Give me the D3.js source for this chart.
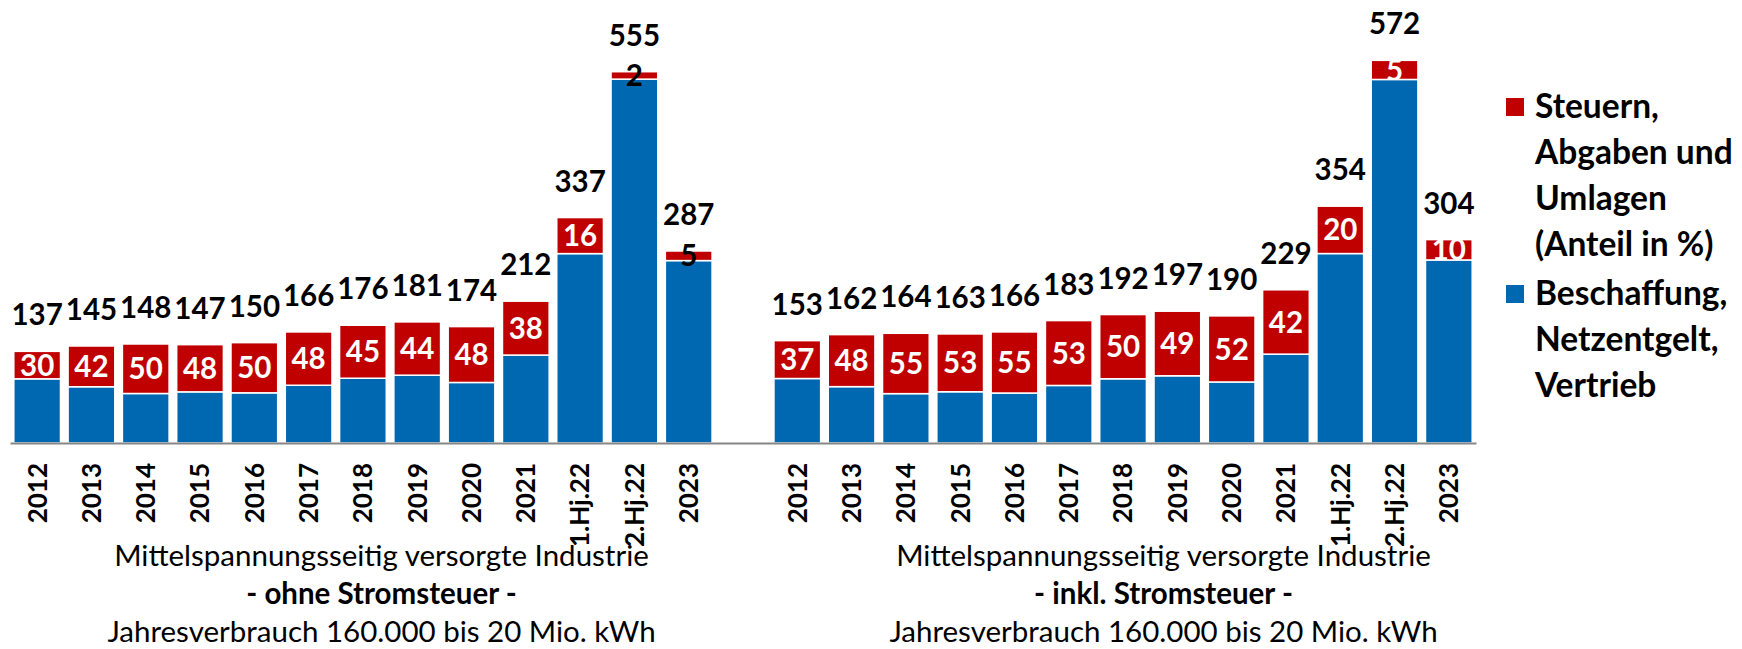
<!DOCTYPE html>
<html>
<head>
<meta charset="utf-8">
<script src="https://cdn.jsdelivr.net/npm/d3@7"></script>
<style>
  body { margin: 0; background: #fff; }
  text { font-family: Lato, "Open Sans", sans-serif; }
</style>
</head>
<body>
<div id="main-canvas"></div>
<script>
// Industry power price (medium voltage), two variants side by side on one axis

const categories = ["2012", "2013", "2014", "2015", "2016", "2017", "2018", "2019", "2020", "2021", "1.Hj.22", "2.Hj.22", "2023"];

// totals and share of taxes/levies (%) - without electricity tax
const totalOhne = [137, 145, 148, 147, 150, 166, 176, 181, 174, 212, 337, 555, 287];
const shareOhne = [30, 42, 50, 48, 50, 48, 45, 44, 48, 38, 16, 2, 5];

// same, including electricity tax
const totalInkl = [153, 162, 164, 163, 166, 183, 192, 197, 190, 229, 354, 572, 304];
const shareInkl = [37, 48, 55, 53, 55, 53, 50, 49, 52, 42, 20, 5, 10];

const legendTax = ["Steuern,", "Abgaben und", "Umlagen", "(Anteil in %)"];
const legendRest = ["Beschaffung,", "Netzentgelt,", "Vertrieb"];

const captionOhne = ["Mittelspannungsseitig versorgte Industrie", "- ohne Stromsteuer -", "Jahresverbrauch 160.000 bis 20 Mio. kWh"];
const captionInkl = ["Mittelspannungsseitig versorgte Industrie", "- inkl. Stromsteuer -", "Jahresverbrauch 160.000 bis 20 Mio. kWh"];

let width = 1742;
let height = 649;

const red = "#C00000";
const blue = "#0068B0";

let svg = d3.select("#main-canvas").append("svg")
    .attr("width", width)
    .attr("height", height)

// build one row per bar; the empty slot "gap" separates the two groups
let groups = [
    { key: "ohne", totals: totalOhne, shares: shareOhne },
    { key: "inkl", totals: totalInkl, shares: shareInkl }
];
let rows = [];
groups.forEach((g, gi) => {
    categories.forEach((c, i) => {
        rows.push({ slot: g.key + "|" + c, group: gi, total: g.totals[i], share: g.shares[i] });
    });
});
let slots = categories.map(c => "ohne|" + c)
    .concat(["gap"])
    .concat(categories.map(c => "inkl|" + c));

let x = d3.scaleBand()
    .domain(slots)
    .range([10, 1476])
    .paddingInner(0.14)
    .paddingOuter(0.07);

let y = d3.scaleLinear()
    .domain([0, 600])
    .range([443, 443 - 600 * 0.669]);

const split = d => d.total * (1 - d.share / 100); // top of the blue part

let defs = svg.append("defs");

let bars = svg.append("g").attr("class", "bars")
    .selectAll("g")
    .data(rows)
    .enter().append("g");

// blue: procurement, grid fee, sales
bars.append("rect")
    .attr("x", d => x(d.slot))
    .attr("width", x.bandwidth())
    .attr("y", d => y(split(d)))
    .attr("height", d => y(0) - y(split(d)))
    .attr("fill", blue)
    .attr("stroke", "#fff")
    .attr("stroke-width", 1.5);

// red: taxes, levies
bars.append("rect")
    .attr("x", d => x(d.slot))
    .attr("width", x.bandwidth())
    .attr("y", d => y(d.total))
    .attr("height", d => y(split(d)) - y(d.total))
    .attr("fill", red)
    .attr("stroke", "#fff")
    .attr("stroke-width", 1.5);

// clip for the share labels, so white text stays inside the red part
defs.selectAll("clipPath")
    .data(rows)
    .enter().append("clipPath")
    .attr("id", (d, i) => "clip" + i)
    .append("rect")
    .attr("x", d => x(d.slot))
    .attr("width", x.bandwidth())
    .attr("y", d => y(d.total))
    .attr("height", d => y(split(d)) - y(d.total));

// thin red parts in the left group get a black label that sits over the bar
const thinLeft = d => d.group === 0 && (y(split(d)) - y(d.total)) < 15;

bars.append("text")
    .attr("x", d => x(d.slot) + x.bandwidth() / 2)
    .attr("y", d => (y(d.total) + y(split(d))) / 2)
    .attr("dy", "0.36em")
    .attr("text-anchor", "middle")
    .attr("clip-path", (d, i) => thinLeft(d) ? null : "url(#clip" + i + ")")
    .style("font-size", "29.5px")
    .style("font-weight", "bold")
    .attr("fill", d => thinLeft(d) ? "#000" : "#fff")
    .text(d => d.share);

// totals above the bars
bars.append("text")
    .attr("x", d => x(d.slot) + x.bandwidth() / 2)
    .attr("y", d => y(d.total) - 26)
    .attr("text-anchor", "middle")
    .style("font-size", "29.5px")
    .style("font-weight", "bold")
    .attr("fill", "#000")
    .text(d => d.total);

// category axis
let axis = svg.append("g")
    .attr("transform", "translate(0," + y(0) + ")")
    .call(d3.axisBottom(x).tickSize(0).tickFormat(d => d === "gap" ? "" : d.split("|")[1]));

axis.select(".domain")
    .attr("stroke", "#868686")
    .attr("stroke-width", 2);

axis.selectAll(".tick text")
    .attr("transform", "rotate(-90)")
    .attr("x", -20)
    .attr("y", 0)
    .attr("dy", "0.36em")
    .style("text-anchor", "end")
    .style("font-family", "Lato, 'Open Sans', sans-serif")
    .style("font-size", "26px")
    .style("font-weight", "bold")
    .attr("fill", "#000");

// legend
let legend = svg.append("g").attr("class", "legend");
let entries = [
    { color: red, lines: legendTax, top: 118 },
    { color: blue, lines: legendRest, top: 305 }
];
entries.forEach(e => {
    legend.append("rect")
        .attr("x", 1506)
        .attr("y", e.top - 20)
        .attr("width", 18)
        .attr("height", 18)
        .attr("fill", e.color);
    legend.append("text")
        .style("font-size", "33.5px")
        .style("font-weight", "bold")
        .selectAll("tspan")
        .data(e.lines)
        .enter().append("tspan")
        .attr("x", 1535)
        .attr("y", (d, i) => e.top + i * 46)
        .text(d => d);
});

// captions under each group
[[captionOhne, 381.5], [captionInkl, 1163.5]].forEach(([lines, cx]) => {
    svg.append("text")
        .attr("text-anchor", "middle")
        .style("font-size", "29.5px")
        .selectAll("tspan")
        .data(lines)
        .enter().append("tspan")
        .attr("x", cx)
        .attr("y", (d, i) => 566 + i * 38)
        .style("font-weight", (d, i) => i === 1 ? "bold" : "normal")
        .text(d => d);
});
</script>
</body>
</html>
